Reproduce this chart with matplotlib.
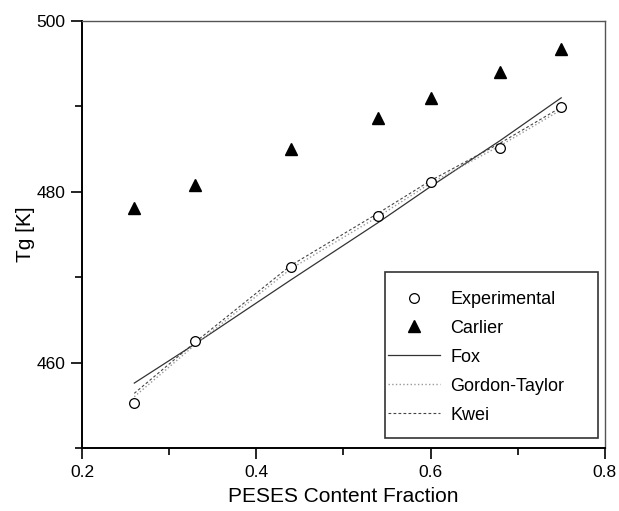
import matplotlib.pyplot as plt
import matplotlib.patches as patches
from matplotlib.ticker import MultipleLocator

plt.rcParams['font.family'] = ['Liberation Sans', 'DejaVu Sans']

x = [0.26, 0.33, 0.44, 0.54, 0.60, 0.68, 0.75]
experimental = [455.3, 462.5, 471.2, 477.2, 481.2, 485.1, 489.9]
carlier = [478.1, 480.8, 485.0, 488.6, 491.0, 494.0, 496.7]
fox = [457.6, 462.2, 469.7, 476.4, 480.6, 486.0, 491.0]
gordon_taylor = [456.0, 462.1, 471.0, 477.1, 481.0, 485.4, 489.6]
kwei = [456.4, 462.4, 471.4, 477.5, 481.3, 485.7, 489.9]

fig = plt.figure(figsize=(6.19, 5.11), dpi=100)
ax = fig.add_axes([0.1325, 0.1233, 0.8445, 0.8357])

ax.plot(x, experimental, 'o', mfc='white', mec='black', ms=7, mew=0.9, label='Experimental', zorder=5)
ax.plot(x, carlier, '^', color='black', ms=8, label='Carlier', zorder=5)
ax.plot(x, fox, '-', color='#333333', lw=0.9, label='Fox')
ax.plot(x, gordon_taylor, ':', color='#999999', lw=1.0, label='Gordon-Taylor')
ax.plot(x, kwei, '--', color='#444444', lw=0.8, dashes=(2.5, 2), label='Kwei')

ax.set_xlim(0.2, 0.8)
ax.set_ylim(450, 500)
ax.xaxis.set_minor_locator(MultipleLocator(0.1))
ax.yaxis.set_minor_locator(MultipleLocator(10))
ax.set_xticks([0.2, 0.4, 0.6, 0.8])
ax.set_xticklabels(['0.2', '0.4', '0.6', '0.8'])
ax.set_yticks([460, 480, 500])

ax.tick_params(which='major', direction='out', length=8, width=1.2, labelsize=12.5, pad=4)
ax.tick_params(which='minor', direction='out', length=5, width=1.2)
ax.tick_params(top=False, right=False, which='both')

for s in ['left', 'bottom']:
    ax.spines[s].set_linewidth(1.4)
for s in ['top', 'right']:
    ax.spines[s].set_linewidth(1.0)
    ax.spines[s].set_color('#555555')

ax.set_xlabel('PESES Content Fraction', fontsize=15, labelpad=5)
ax.set_ylabel('Tg [K]', fontsize=15, labelpad=1)

# legend frame drawn separately, entries without frame
ax.add_patch(patches.Rectangle((0.579, 0.0234), 0.4076, 0.389, transform=ax.transAxes,
                               fill=False, edgecolor='#333333', linewidth=1.2, zorder=6))
leg = ax.legend(loc='upper left', bbox_to_anchor=(0.585, 0.368), fontsize=13,
                frameon=False, handlelength=2.9, labelspacing=0.66, borderpad=0,
                handletextpad=0.55, borderaxespad=0)

plt.savefig('out.png', dpi=100)
